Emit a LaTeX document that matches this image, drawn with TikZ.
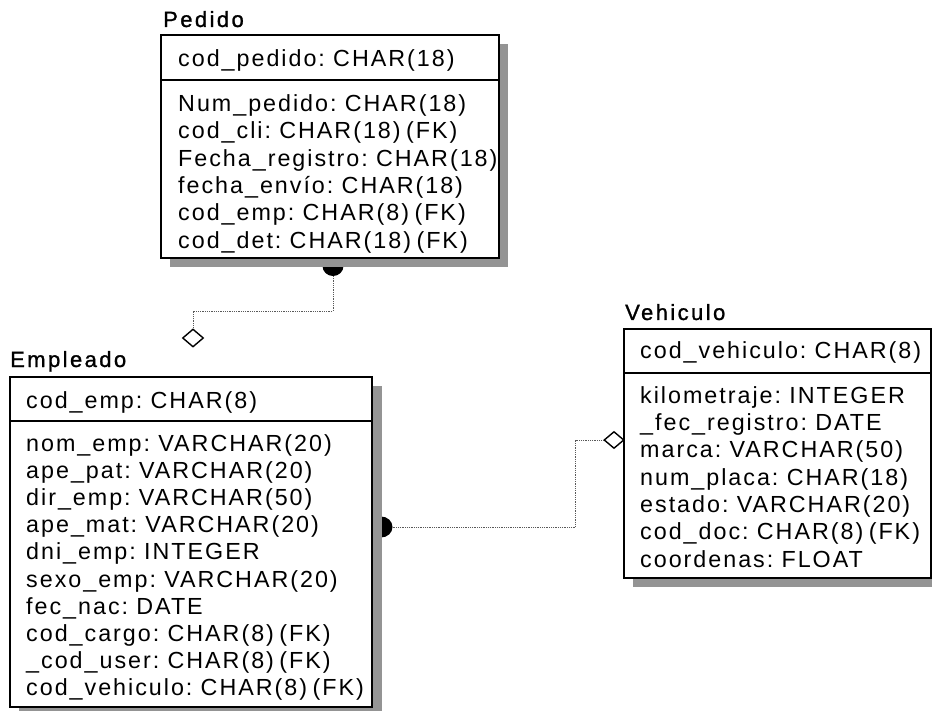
\documentclass[tikz,border=0pt]{standalone}
\usepackage{fontspec}
\setmainfont[LetterSpace=8.5,WordSpace=0.65]{Liberation Sans}
\newfontfamily\enttitlefont[LetterSpace=11,FakeBold=1.2]{Liberation Sans}
\usetikzlibrary{shapes.geometric}
\definecolor{shadowgray}{gray}{0.58}
\definecolor{relgray}{gray}{0.35}
\begin{document}
\begin{tikzpicture}[x=1pt,y=-1pt,
  attr/.style={anchor=base west, inner sep=0pt, font=\fontsize{23.3}{27}\selectfont},
  etitle/.style={anchor=base west, inner sep=0pt, font=\enttitlefont\fontsize{22}{26}\selectfont},
  ebox/.style={draw=black, line width=1.6pt, fill=white},
  divider/.style={draw=black, line width=1.4pt},
  eshadow/.style={fill=shadowgray, draw=none},
  rel/.style={draw=relgray, densely dotted, line width=0.8pt},
  dia/.style={diamond, draw=black, line width=1.4pt, fill=white, inner sep=0pt, minimum width=21pt, minimum height=18pt},
  dot/.style={fill=black}
]
\useasboundingbox (0,0) rectangle (932,711);
\clip (0,0) rectangle (932,711);

% ---------- relationship end markers (under the shadows) ----------
\fill[dot] (322.5,266) arc[start angle=180,end angle=0,x radius=10.5,y radius=10] -- cycle;
\fill[dot] (381,516.5) arc[start angle=-90,end angle=90,x radius=11.5,y radius=10.5] -- cycle;
\coordinate (s1) at (333,276);
\coordinate (s2) at (392.5,527);

% ---------- shadows ----------
\fill[eshadow] (170,44) rectangle (508,267);
\fill[eshadow] (19,386) rectangle (381.5,716);
\fill[eshadow] (633,338) rectangle (940,587);

% ---------- Pedido ----------
\node[etitle] (pedT) at (163,27) {Pedido};
\draw[ebox] (161,35) rectangle (499,258);
\draw[divider] (161,80) -- (499,80);
\node[attr] (pedK) at (178,66.7) {cod\_pedido: CHAR(18)};
\foreach \t [count=\i from 0] in {Num\_pedido: CHAR(18),cod\_cli: CHAR(18) (FK),Fecha\_registro: CHAR(18),fecha\_envío: CHAR(18),cod\_emp: CHAR(8) (FK),cod\_det: CHAR(18) (FK)}
  \node[attr] (ped\i) at (178,111.7+27.3*\i) {\t};

% ---------- Empleado ----------
\node[etitle] (empT) at (10,367) {Empleado};
\draw[ebox] (10,377) rectangle (372,707);
\draw[divider] (10,421) -- (372,421);
\node[attr] (empK) at (26,408) {cod\_emp: CHAR(8)};
\foreach \t [count=\i from 0] in {nom\_emp: VARCHAR(20),ape\_pat: VARCHAR(20),dir\_emp: VARCHAR(50),ape\_mat: VARCHAR(20),dni\_emp: INTEGER,sexo\_emp: VARCHAR(20),fec\_nac: DATE,cod\_cargo: CHAR(8) (FK),\_cod\_user: CHAR(8) (FK),cod\_vehiculo: CHAR(8) (FK)}
  \node[attr] (emp\i) at (26,451+27.2*\i) {\t};

% ---------- Vehiculo ----------
\node[etitle] (vehT) at (625,320) {Vehiculo};
\draw[ebox] (624,329) rectangle (931,578);
\draw[divider] (624,373) -- (931,373);
\node[attr] (vehK) at (640,359) {cod\_vehiculo: CHAR(8)};
\foreach \t [count=\i from 0] in {kilometraje: INTEGER,\_fec\_registro: DATE,marca: VARCHAR(50),num\_placa: CHAR(18),estado: VARCHAR(20),cod\_doc: CHAR(8) (FK),coordenas: FLOAT}
  \node[attr] (veh\i) at (640,403.3+27.3*\i) {\t};

% ---------- diamonds ----------
\node[dia] (d1) at (193,338) {};
\node[dia, minimum width=20pt, minimum height=17pt] (d2) at (614,440) {};

% ---------- connectors ----------
\draw[rel] (s1) -- ++(0,35) -| (d1.north);
\draw[rel] (s2) -- (575.7,527) |- (d2.west);
\end{tikzpicture}
\end{document}
